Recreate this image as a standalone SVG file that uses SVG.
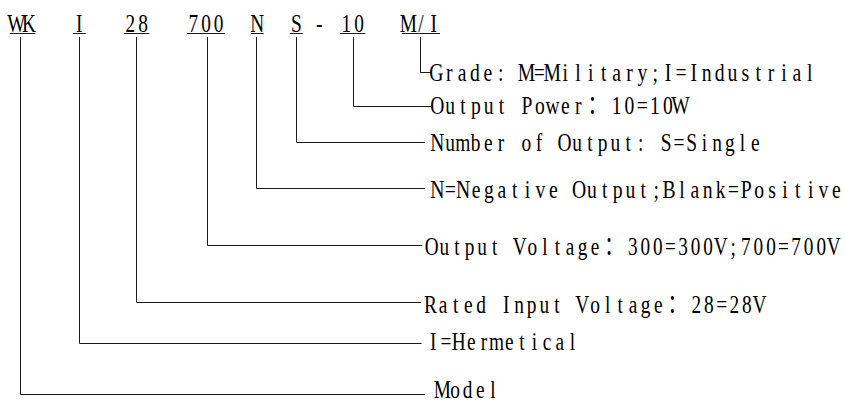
<svg xmlns="http://www.w3.org/2000/svg" width="845" height="403" viewBox="0 0 845 403">
<style>
.t{font-family:"Liberation Serif","Noto Sans CJK SC",serif;font-size:26px;text-anchor:middle;fill:#000}
.ln{stroke:#1a1a1a;stroke-width:1;fill:none}
</style>
<rect width="845" height="403" fill="#fff"/>
<g id="code">
<g id="code-WK"><text class="t" transform="translate(10,31.5) scale(0.744,1)" x="8.5 25.5" y="0">WK</text><line class="ln" x1="10" y1="33.5" x2="35.3" y2="33.5"/></g>
<g id="code-I"><text class="t" transform="translate(73,31.5) scale(0.744,1)" x="8.5" y="0">I</text><line class="ln" x1="73" y1="33.5" x2="85.7" y2="33.5"/></g>
<g id="code-28"><text class="t" transform="translate(124,31.5) scale(0.744,1)" x="8.5 25.5" y="0">28</text><line class="ln" x1="124" y1="33.5" x2="149.3" y2="33.5"/></g>
<g id="code-700"><text class="t" transform="translate(187,31.5) scale(0.744,1)" x="8.5 25.5 42.5" y="0">700</text><line class="ln" x1="187" y1="33.5" x2="225" y2="33.5"/></g>
<g id="code-N"><text class="t" transform="translate(251,31.5) scale(0.744,1)" x="8.5" y="0">N</text><line class="ln" x1="251" y1="33.5" x2="263.7" y2="33.5"/></g>
<g id="code-S"><text class="t" transform="translate(290,31.5) scale(0.744,1)" x="8.5" y="0">S</text><line class="ln" x1="290" y1="33.5" x2="302.7" y2="33.5"/></g>
<g id="code-dash"><text class="t" transform="translate(313,31.5) scale(0.744,1)" x="8.5" y="0">-</text></g>
<g id="code-10"><text class="t" transform="translate(340,31.5) scale(0.744,1)" x="8.5 25.5" y="0">10</text><line class="ln" x1="340" y1="33.5" x2="365.3" y2="33.5"/></g>
<g id="code-MI"><text class="t" transform="translate(402,31.5) scale(0.744,1)" x="8.5 25.5 42.5" y="0">M/I</text><line class="ln" x1="402" y1="33.5" x2="440" y2="33.5"/></g>
</g>
<g id="connectors">
<path class="ln" d="M20.5 37V394.5H425"/>
<path class="ln" d="M79.5 37V343.5H421.5"/>
<path class="ln" d="M136.5 37V302.5H421"/>
<path class="ln" d="M207.5 37V245.5H422"/>
<path class="ln" d="M256.5 37V188.5H425"/>
<path class="ln" d="M296.5 37V142.5H425"/>
<path class="ln" d="M353.5 37V106.5H431"/>
<path class="ln" d="M420.5 37V72.5H431"/>
</g>
<g id="label-grade"><text class="t" transform="translate(430,80.5) scale(0.757,1)" x="8.5 25.5 42.5 59.5 76.5 93.5 110.5 127.5 144.5 161.5 178.5 195.5 212.5 229.5 246.5 263.5 280.5 297.5 314.5 331.5 348.5 365.5 382.5 399.5 416.5 433.5 450.5 467.5 484.5 501.5" y="0">Grade: M=Military;I=Industrial</text></g>
<g id="label-power"><text class="t" transform="translate(431,113.5) scale(0.753,1)" x="8.5 25.5 42.5 59.5 76.5 93.5 110.5 127.5 144.5 161.5 178.5 195.5 221 246.5 263.5 280.5 297.5 314.5 331.5" y="0">Output Power：10=10W</text></g>
<g id="label-number"><text class="t" transform="translate(431,150.5) scale(0.748,1)" x="8.5 25.5 42.5 59.5 76.5 93.5 110.5 127.5 144.5 161.5 178.5 195.5 212.5 229.5 246.5 263.5 280.5 297.5 314.5 331.5 348.5 365.5 382.5 399.5 416.5 433.5" y="0">Number of Output: S=Single</text></g>
<g id="label-polarity"><text class="t" transform="translate(431,197.5) scale(0.757,1)" x="8.5 25.5 42.5 59.5 76.5 93.5 110.5 127.5 144.5 161.5 178.5 195.5 212.5 229.5 246.5 263.5 280.5 297.5 314.5 331.5 348.5 365.5 382.5 399.5 416.5 433.5 450.5 467.5 484.5 501.5 518.5 535.5" y="0">N=Negative Output;Blank=Positive</text></g>
<g id="label-voltage"><text class="t" transform="translate(425.5,255) scale(0.739,1)" x="8.5 25.5 42.5 59.5 76.5 93.5 110.5 127.5 144.5 161.5 178.5 195.5 212.5 229.5 255 280.5 297.5 314.5 331.5 348.5 365.5 382.5 399.5 416.5 433.5 450.5 467.5 484.5 501.5 518.5 535.5 552.5" y="0">Output Voltage：300=300V;700=700V</text></g>
<g id="label-input"><text class="t" transform="translate(424,313) scale(0.745,1)" x="8.5 25.5 42.5 59.5 76.5 93.5 110.5 127.5 144.5 161.5 178.5 195.5 212.5 229.5 246.5 263.5 280.5 297.5 314.5 340 365.5 382.5 399.5 416.5 433.5 450.5" y="0">Rated Input Voltage：28=28V</text></g>
<g id="label-hermetical"><text class="t" transform="translate(427,349.5) scale(0.744,1)" x="8.5 25.5 42.5 59.5 76.5 93.5 110.5 127.5 144.5 161.5 178.5 195.5" y="0">I=Hermetical</text></g>
<g id="label-model"><text class="t" transform="translate(436,398) scale(0.744,1)" x="8.5 25.5 42.5 59.5 76.5" y="0">Model</text></g>
</svg>
